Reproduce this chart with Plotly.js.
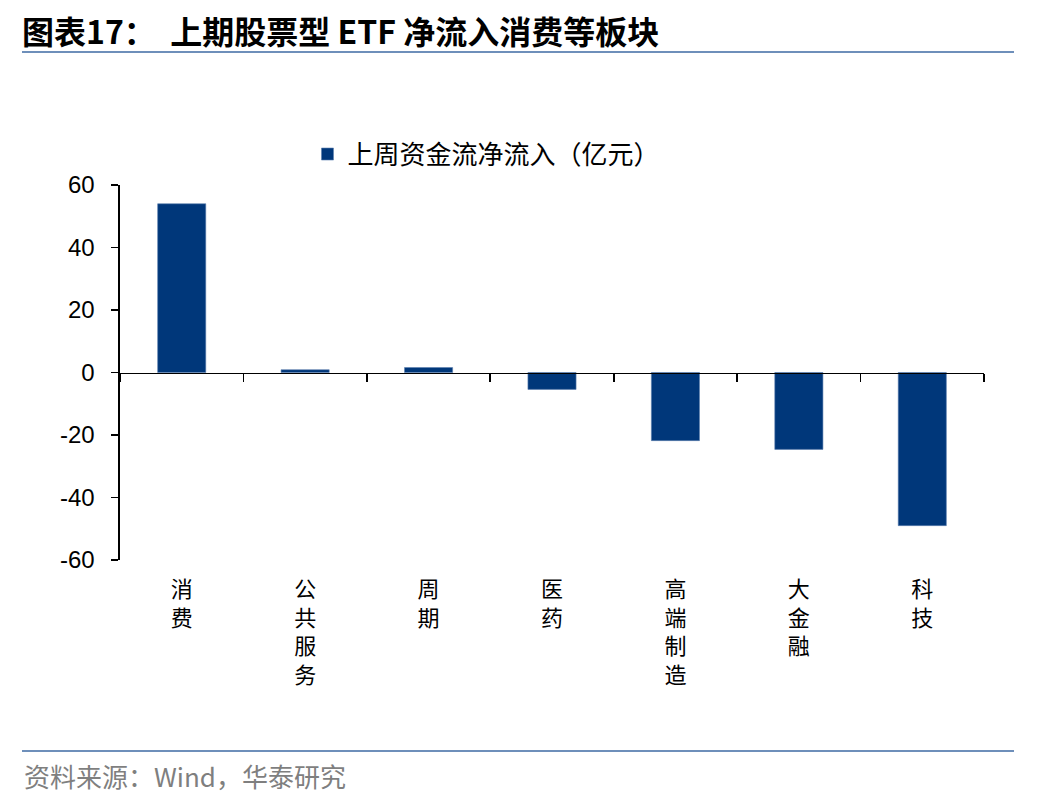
<!DOCTYPE html>
<html>
<head>
<meta charset="utf-8">
<script src="https://cdn.plot.ly/plotly-3.0.1.min.js"></script>
<style>html,body{margin:0;padding:0;background:#fff;}#chart{width:1048px;height:800px;}</style>
</head>
<body>
<div id="chart"></div>
<script>
const categories = ["消费", "公共服务", "周期", "医药", "高端制造", "大金融", "科技"];
const netInflow = [54.0, 0.9, 1.6, -5.4, -21.8, -24.6, -49.0];
const seriesName = "上周资金流净流入（亿元）";
const yTicks = [-60, -40, -20, 0, 20, 40, 60];
const yTickText = yTicks.map(v => String(v));
const titleText = "图表17：  上期股票型 ETF 净流入消费等板块";
const sourceText = "资料来源：Wind，华泰研究";

const cjk = '"Noto Sans CJK SC", "Liberation Sans", sans-serif';
const labels = categories.map(c => c.split("").join("<br>"));

const traces = [
  {
    type: "bar",
    x: categories,
    y: netInflow,
    name: seriesName,
    marker: {color: "#00377A", line: {color: "#5D7FAE", width: 0.6}},
    xaxis: "x",
    yaxis: "y",
    hoverinfo: "x+y"
  },
  {
    type: "bar",
    x: categories,
    y: netInflow,
    xaxis: "x2",
    yaxis: "y",
    showlegend: false,
    hoverinfo: "skip",
    marker: {color: "rgba(0,0,0,0)"}
  }
];

const layout = {
  width: 1048,
  height: 800,
  paper_bgcolor: "#ffffff",
  plot_bgcolor: "#ffffff",
  margin: {l: 120, r: 64, t: 185, b: 240},
  bargap: 0.61,
  showlegend: true,
  title: {
    text: "<b>" + titleText + "</b>",
    x: 22 / 1048,
    xanchor: "left",
    y: 1 - 33 / 800,
    yanchor: "middle",
    font: {family: cjk, size: 32, color: "#000000"}
  },
  legend: {
    orientation: "h",
    x: 0.217,
    xanchor: "left",
    y: 1.145,
    yanchor: "top",
    font: {family: cjk, size: 26, color: "#000000"},
    bgcolor: "rgba(0,0,0,0)"
  },
  xaxis: {
    type: "category",
    categoryorder: "array",
    categoryarray: categories,
    tickvals: categories,
    ticktext: labels,
    range: [-0.5, categories.length - 0.5],
    showline: false,
    showgrid: false,
    zeroline: false,
    ticks: "",
    ticklabelstandoff: 14,
    tickfont: {family: cjk, size: 22, color: "#000000"},
    anchor: "y"
  },
  xaxis2: {
    type: "category",
    overlaying: "x",
    matches: "x",
    categoryorder: "array",
    categoryarray: categories,
    range: [-0.5, categories.length - 0.5],
    anchor: "free",
    position: 0.5,
    side: "bottom",
    showline: true,
    linecolor: "#000000",
    linewidth: 1.6,
    showgrid: false,
    zeroline: false,
    tickson: "boundaries",
    ticks: "outside",
    ticklen: 8,
    tickwidth: 1.6,
    tickcolor: "#000000",
    showticklabels: false
  },
  yaxis: {
    range: [-60, 60],
    tickvals: yTicks,
    ticktext: yTickText,
    showline: true,
    linecolor: "#000000",
    linewidth: 1.6,
    ticks: "outside",
    ticklen: 7,
    tickwidth: 1.6,
    tickcolor: "#000000",
    showgrid: false,
    zeroline: false,
    ticklabelstandoff: 12,
    tickfont: {family: '"Liberation Sans", Arial, sans-serif', size: 24, color: "#000000"}
  },
  shapes: [
    {type: "line", xref: "paper", yref: "paper", x0: -98/864, x1: 894/864, y0: 508/375, y1: 508/375,
     line: {color: "#6E8FBA", width: 2}},
    {type: "line", xref: "paper", yref: "paper", x0: -98/864, x1: 894/864, y0: -191/375, y1: -191/375,
     line: {color: "#6E8FBA", width: 2}}
  ],
  annotations: [
    {text: sourceText, xref: "paper", yref: "paper", x: -98/864, y: -215/375,
     xanchor: "left", yanchor: "middle", showarrow: false,
     font: {family: cjk, size: 26, color: "#7F7F7F"}}
  ]
};

Plotly.newPlot("chart", traces, layout, {displayModeBar: false, staticPlot: true});
</script>
</body>
</html>
